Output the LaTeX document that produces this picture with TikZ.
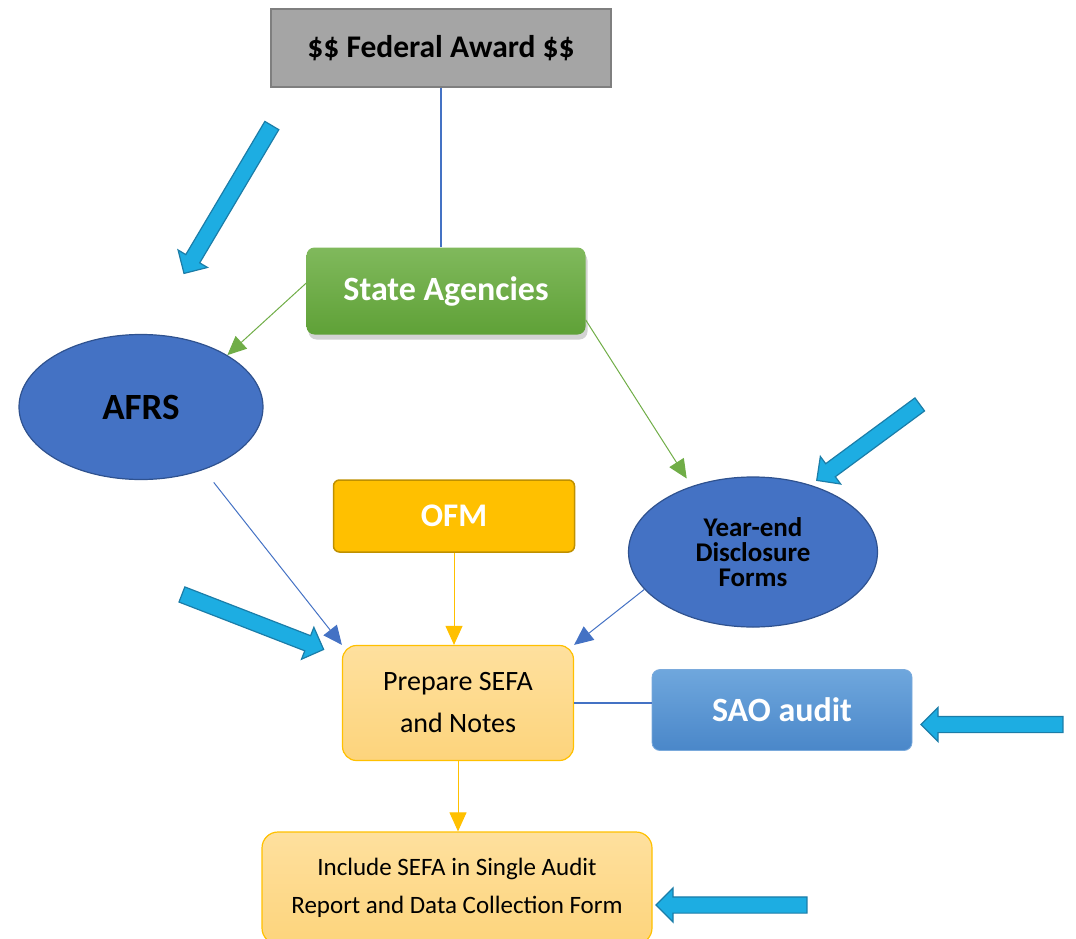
\documentclass[tikz,border=0pt]{standalone}
\usepackage{fontspec}
\setmainfont{Carlito}
\usetikzlibrary{shapes.geometric,shapes.arrows,arrows.meta,shadows}

\definecolor{awardgray}{HTML}{A5A5A5}
\definecolor{awardline}{HTML}{7F7F7F}
\definecolor{agencytop}{HTML}{80B95C}
\definecolor{agencybottom}{HTML}{5FA137}
\definecolor{ovalblue}{HTML}{4472C4}
\definecolor{ovalline}{HTML}{2F528F}
\definecolor{ofmgold}{HTML}{FFC000}
\definecolor{ofmline}{HTML}{BF9000}
\definecolor{sefatop}{HTML}{FEE09E}
\definecolor{sefabottom}{HTML}{FDD47C}
\definecolor{saotop}{HTML}{6FA7DD}
\definecolor{saobottom}{HTML}{4A87C9}
\definecolor{saoline}{HTML}{7AAADC}
\definecolor{blueline}{HTML}{4472C4}
\definecolor{greenline}{HTML}{70AD47}
\definecolor{pointerblue}{HTML}{1DADE2}
\definecolor{pointerline}{HTML}{1B7DA8}

\begin{document}
\begin{tikzpicture}[x=1pt,y=-1pt,
box/.style={rectangle,rounded corners=8pt,align=center,inner sep=0pt},
oval/.style={draw=ovalline,fill=ovalblue,ellipse,line width=1.2pt,inner sep=0pt,align=center},
flow/.style={line width=1pt,-{Triangle[length=19pt,width=17pt]}},
pointer/.style={single arrow,draw=pointerline,fill=pointerblue,line width=1.2pt,
    inner xsep=0pt,inner ysep=7.5pt,single arrow head extend=9pt}]
\useasboundingbox (0,0) rectangle (1076,939);

\node (award) [draw=awardline,fill=awardgray,line width=1.5pt,
    minimum width=340pt,minimum height=78pt,
    font=\bfseries\fontsize{31.5}{36}\selectfont] at (441,48) {\$\$ Federal Award \$\$};
\node (agencies) [box,top color=agencytop,bottom color=agencybottom,
    drop shadow={opacity=.35,shadow xshift=2pt,shadow yshift=-5pt},
    minimum width=279pt,minimum height=87pt,text=white,
    font=\bfseries\fontsize{34}{38}\selectfont] at (446,291) {State Agencies};
\node (afrs) [oval,minimum width=244pt,minimum height=145pt,
    font=\bfseries\fontsize{37}{40}\selectfont] at (141,407) {AFRS};
\node (yearend) [oval,minimum width=249pt,minimum height=150pt,
    font=\bfseries\fontsize{27}{25}\selectfont] at (753,552) {Year-end\\Disclosure\\Forms};
\node (ofm) [box,rounded corners=6pt,draw=ofmline,fill=ofmgold,line width=1.5pt,
    minimum width=241pt,minimum height=72pt,text=white,
    font=\bfseries\fontsize{33}{38}\selectfont] at (454,516) {OFM};
\node (prepare) [box,draw=ofmgold,top color=sefatop,bottom color=sefabottom,line width=1.2pt,
    rounded corners=14pt,minimum width=231pt,minimum height=115pt,
    font=\fontsize{28}{42}\selectfont] at (458,703) {Prepare SEFA\\and Notes};
\node (sao) [box,draw=saoline,top color=saotop,bottom color=saobottom,line width=0.8pt,
    minimum width=260pt,minimum height=81pt,text=white,
    font=\bfseries\fontsize{34}{38}\selectfont] at (782,710) {SAO audit};
\node (include) [box,draw=ofmgold,top color=sefatop,bottom color=sefabottom,line width=1.2pt,
    rounded corners=16pt,minimum width=390pt,minimum height=112pt,
    font=\fontsize{25}{38}\selectfont] at (457,888) {Include SEFA in Single Audit\\Report and Data Collection Form};

\draw [blueline,line width=1.1pt] (award.south) -- (award.south |- agencies.north);
\draw [flow,greenline] ([yshift=8pt]agencies.west) -- (afrs.31);
\draw [flow,greenline,shorten >=9pt] ([yshift=-29pt]agencies.east) -- (yearend.133);
\draw [flow,blueline,shorten <=16pt] (afrs.-45) -- (prepare.north west);
\draw [flow,blueline] (yearend.199) -- (prepare.north east);
\draw [flow,ofmgold] (ofm.south) -- (ofm.south |- prepare.north);
\draw [blueline,line width=1.1pt] (prepare.east) -- (prepare.east -| sao.west);
\draw [flow,ofmgold] (prepare.south) -- (prepare.south |- include.north);

\node (pointerafrs) [pointer,minimum height=172pt,rotate=239.3] at (230,196) {};
\node (pointersefa) [pointer,minimum height=152pt,rotate=-21.2] at (249,620.5) {};
\node (pointeryear) [pointer,minimum height=128pt,rotate=216.4] at (871.5,440) {};
\node (pointersao) [pointer,minimum height=142pt,rotate=180] at (996,724.5) {};
\node (pointerform) [pointer,minimum height=151pt,rotate=180] at (735.5,905) {};
\end{tikzpicture}
\end{document}
